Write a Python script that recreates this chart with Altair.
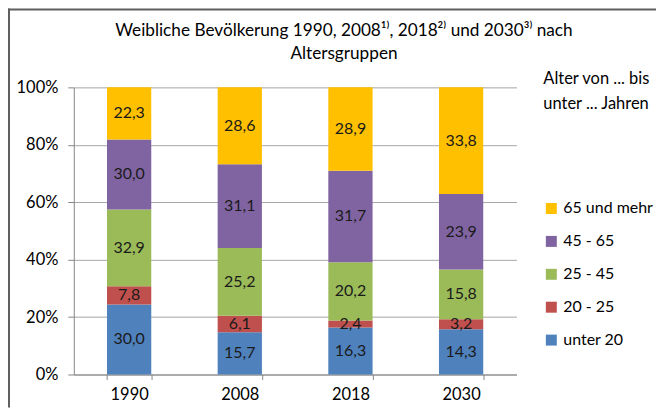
import altair as alt
import pandas as pd

years = ["1990", "2008", "2018", "2030"]
groups = ["unter 20", "20 - 25", "25 - 45", "45 - 65", "65 und mehr"]
unter20 = [30.0, 15.7, 16.3, 14.3]
g20_25 = [7.8, 6.1, 2.4, 3.2]
g25_45 = [32.9, 25.2, 20.2, 15.8]
g45_65 = [30.0, 31.1, 31.7, 23.9]
g65plus = [22.3, 28.6, 28.9, 33.8]
colors = ["#4F81BD", "#C0504D", "#9BBB59", "#8064A2", "#FFC000"]
y_ticks = [0, 0.1, 0.2, 0.3, 0.4, 0.5, 0.6, 0.7, 0.8, 0.9, 1.0]
title_lines = ["Weibliche  Bevölkerung 1990, 2008¹⁾, 2018²⁾ und 2030³⁾ nach", "Altersgruppen"]
legend_title = ["Alter von ... bis", "unter ... Jahren"]

series = [unter20, g20_25, g25_45, g45_65, g65plus]
rows = []
for gi, (g, vals) in enumerate(zip(groups, series)):
    for y, v in zip(years, vals):
        rows.append({"year": y, "group": g, "value": v, "order": gi})
df = pd.DataFrame(rows)

FONT = "Lato"

base = alt.Chart(df).transform_stack(
    stack="value",
    groupby=["year"],
    sort=[alt.SortField(field="order", order="ascending")],
    as_=["y0", "y1"],
    offset="normalize",
).transform_calculate(
    mid="(datum.y0 + datum.y1) / 2",
    label="replace(format(datum.value, '.1f'), '.', ',')",
)

xenc = alt.X(
    "year:N",
    sort=years,
    scale=alt.Scale(paddingInner=0.6, paddingOuter=0.3),
    axis=alt.Axis(title=None, labelAngle=0, tickBand="extent", tickSize=5,
                  labelPadding=7, grid=False),
)

bars = base.mark_bar().encode(
    x=xenc,
    y=alt.Y("y0:Q", scale=alt.Scale(domain=[0, 1]),
            axis=alt.Axis(title=None, format=".0%", values=y_ticks, tickSize=6,
                          labelPadding=10, grid=True, labelOverlap=False)),
    y2="y1:Q",
    color=alt.Color(
        "group:N",
        scale=alt.Scale(domain=groups[::-1], range=colors[::-1]),
        legend=alt.Legend(
            title=legend_title,
            orient="none", legendX=471, legendY=-16,
            titleFont=FONT, titleFontSize=16.5, titleFontWeight="normal",
            titleColor="#000000", titleLineHeight=25, titlePadding=88,
            labelFont=FONT, labelFontSize=16, labelColor="#000000",
            symbolType="square", symbolSize=121, symbolStrokeWidth=0,
            rowPadding=17, labelOffset=4,
        ),
    ),
)

texts = base.mark_text(font=FONT, fontSize=16, color="#1a1a1a").encode(
    x=alt.X("year:N", sort=years),
    y=alt.Y("mid:Q"),
    text="label:N",
)

one = alt.Data(values=[{}])
title1 = alt.Chart(one).mark_text(font=FONT, fontSize=17.25, color="#000000", align="center",
                                  baseline="middle").encode(
    x=alt.value(271), y=alt.value(-57), text=alt.value(title_lines[0]))
title2 = alt.Chart(one).mark_text(font=FONT, fontSize=17.25, color="#000000", align="center",
                                  baseline="middle").encode(
    x=alt.value(271), y=alt.value(-33), text=alt.value(title_lines[1]))

frame_v = alt.Chart(one).mark_rule(color="#5f5f5f", strokeWidth=2).encode(
    x=alt.value(-65), y=alt.value(-79), y2=alt.value(321)
)
frame_h = alt.Chart(one).mark_rule(color="#5f5f5f", strokeWidth=2).encode(
    y=alt.value(-78), x=alt.value(-66), x2=alt.value(584)
)

chart = alt.layer(bars, texts, title1, title2, frame_v, frame_h).properties(
    width=444,
    height=288,
    autosize=alt.AutoSizeParams(type="none"),
    padding={"left": 66, "top": 79, "right": 140, "bottom": 33},
    background="white",
).configure_axis(
    labelFont=FONT, labelFontSize=16.5, labelColor="#000000",
    domainColor="#868686", tickColor="#868686", gridColor="#a6a6a6",
).configure_view(stroke="transparent")

chart.save("out.html", embed_options={"renderer": "svg", "actions": False})
